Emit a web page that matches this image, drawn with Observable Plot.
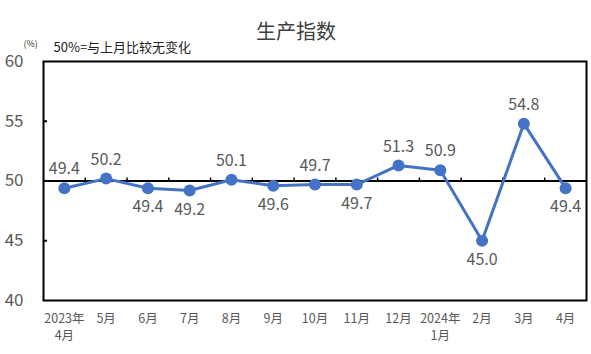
<!DOCTYPE html>
<html><head><meta charset="utf-8">
<script src="https://cdn.jsdelivr.net/npm/d3@7"></script>
<script src="https://cdn.jsdelivr.net/npm/@observablehq/plot@0.6"></script>
<style>body{margin:0;background:#fff} #chart{width:591px;height:354px}</style>
</head><body><div id="chart"></div>
<script>
const months = ["2023年\n4月","5月","6月","7月","8月","9月","10月","11月","12月","2024年\n1月","2月","3月","4月"];
const values = [49.4,50.2,49.4,49.2,50.1,49.6,49.7,49.7,51.3,50.9,45.0,54.8,49.4];
const yTicks = [40,45,50,55,60];
const innerTicks = [45,55];
const baseline = 50;
const title = "生产指数";
const unit = "(%)";
const note = "50%=与上月比较无变化";
const belowLabels = ["6月","7月","9月","11月","2月","4月"];

const data = months.map((m,i)=>({month:m, value:values[i], below: belowLabels.includes(m)}));
const W = 591, H = 354, mL = 43, mR = 5, mT = 61, mB = 54;
const bw = (W - mL - mR) / months.length;
const font = "'Noto Sans CJK SC', 'Noto Sans', sans-serif";
const gray = "#595959";
const blue = "#4472C4";

const chart = Plot.plot({
  width: W, height: H,
  marginLeft: mL, marginRight: mR, marginTop: mT, marginBottom: mB,
  style: {fontFamily: font, background: "#fff"},
  x: {type: "band", domain: months, padding: 0, round: false, label: null},
  y: {domain: [40, 60], label: null},
  marks: [
    Plot.ruleY([baseline], {stroke: "black", strokeWidth: 2}),
    Plot.ruleX(months.slice(1), {y1: baseline, y2: baseline + 0.25, dx: -bw/2, stroke: "black", strokeWidth: 1.5}),
    Plot.axisY(innerTicks, {tickSize: 4, dx: 4, text: null, label: null, stroke: "black", strokeWidth: 2}),
    Plot.axisY(yTicks, {tickSize: 0, tickPadding: 20, fontSize: 17, fill: gray, label: null}),
    Plot.axisX({tickSize: 0, tickPadding: 11, fontSize: 12.5, fill: gray, lineHeight: 1.35, label: null}),
    Plot.frame({stroke: "black", strokeWidth: 2}),
    Plot.line(data, {x: "month", y: "value", stroke: blue, strokeWidth: 3}),
    Plot.dot(data, {x: "month", y: "value", r: 6, fill: blue}),
    Plot.text(data.filter(d => !d.below), {x: "month", y: "value", text: d => d.value.toFixed(1), dy: -19, fontSize: 16, fill: gray}),
    Plot.text(data.filter(d => d.below), {x: "month", y: "value", text: d => d.value.toFixed(1), dy: 19, fontSize: 16, fill: gray}),
    Plot.text([title], {frameAnchor: "top", dy: -37, dx: -19, fontSize: 20, fill: "#404040"}),
    Plot.text([unit], {frameAnchor: "top-left", dx: -20, dy: -21, fontSize: 9, fill: "#333", textAnchor: "start"}),
    Plot.text([note], {frameAnchor: "top-left", dx: 10, dy: -19, fontSize: 13, fill: "#222", textAnchor: "start"})
  ]
});
document.getElementById("chart").appendChild(chart);
</script>
</body></html>
